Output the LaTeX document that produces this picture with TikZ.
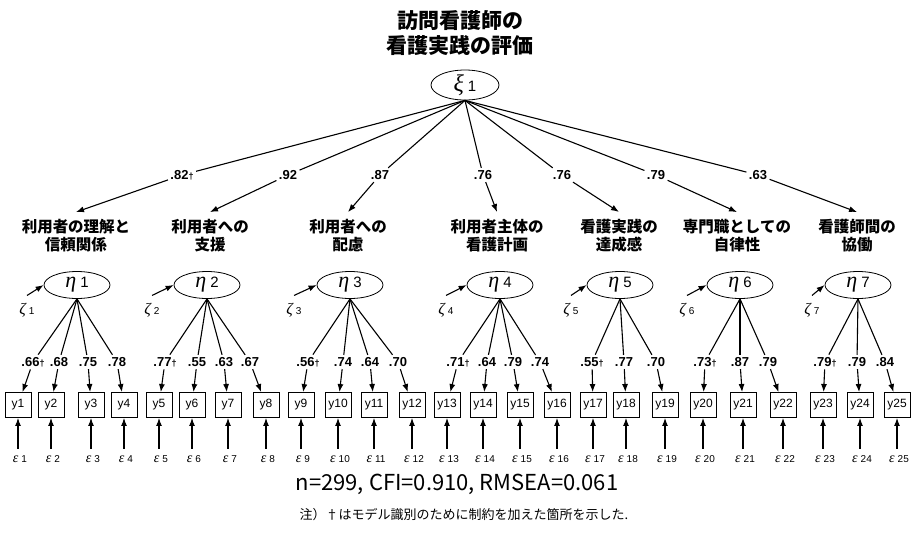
\documentclass[tikz,border=0pt]{standalone}
\usepackage{fontspec}
\setmainfont{Liberation Sans}
\newfontfamily\jpfont{Noto Sans CJK JP}
\newfontfamily\grkfont{Liberation Serif}
\usetikzlibrary{arrows.meta,positioning,shapes.geometric}
\newcommand{\dagmark}{{\fontsize{9}{9}\selectfont †}}
\tikzset{
  >={Latex[length=8pt,width=6pt]},
  latent/.style={ellipse, draw, line width=0.8pt, minimum width=66pt,
    minimum height=27pt, inner sep=0pt},
  obs/.style={draw, line width=0.9pt, minimum width=26pt, minimum height=25pt,
    inner sep=0pt, font=\fontsize{12}{14}\selectfont},
  coef/.style={font=\fontsize{13}{15}\selectfont\bfseries, inner sep=2pt},
  grp/.style={font=\jpfont\bfseries\fontsize{15.5}{18}\selectfont, align=center,
    inner xsep=2pt, inner ysep=7pt},
  headline/.style={font=\jpfont\bfseries\fontsize{21}{25}\selectfont, align=center},
  errlab/.style={font=\fontsize{10}{12}\selectfont, inner sep=1pt},
}

\begin{document}
\begin{tikzpicture}[x=1pt, y=-1pt, line width=1.1pt]
  \useasboundingbox[fill=white] (0,0) rectangle (914,547);

  % --- second-order factor ---
  \node[headline] (head) at (460,33) {訪問看護師の\\看護実践の評価};
  \node[latent, minimum width=68pt, minimum height=30pt] (xi) at (465,85)
    {{\grkfont\itshape\fontsize{24}{24}\selectfont ξ}\hspace{4pt}{\fontsize{15}{15}\selectfont 1}};

  % --- first-order factors ---
  \foreach \i/\ex/\gx/\cx/\zx/\cv/\lab in {
    1/77/76/182/27/{.82\dagmark}/{利用者の理解と\\信頼関係},
    2/207/210/288/152/.92/{利用者への\\支援},
    3/350/348/380/294/.87/{利用者への\\配慮},
    4/500/497/483/446/.76/{利用者主体の\\看護計画},
    5/620/619/562/571/.76/{看護実践の\\達成感},
    6/740/737/656/687/.79/{専門職としての\\自律性},
    7/858/857/758/812/.63/{看護師間の\\協働}} {
    \node[grp] (g\i) at (\gx,236) {\lab};
    \node[latent] (eta\i) at (\ex,285)
      {{\grkfont\itshape\fontsize{22}{22}\selectfont η}\hspace{4pt}{\fontsize{15}{15}\selectfont\i}};
    \node[coef] (c\i) at (\cx,175) {\cv};
    \node[errlab] (z\i) at (\zx,310)
      {{\grkfont\itshape\fontsize{16}{16}\selectfont ζ}\hspace{3pt}{\fontsize{10}{10}\selectfont\i}};
    \draw (xi.south) -- (c\i);
    \draw[->] (c\i) -- (g\i.north);
    \draw[->] ([yshift=6pt]z\i.north) -- (eta\i.west);
  }

  % --- indicators ---
  \foreach \j/\bx/\lx/\lv/\f in {
    1/18/33/{.66\dagmark}/1, 2/51/59/.68/1, 3/91/88/.75/1, 4/124/117/.78/1,
    5/159/165/{.77\dagmark}/2, 6/192/197/.55/2, 7/228/224/.63/2, 8/266/250/.67/2,
    9/301/308/{.56\dagmark}/3, 10/338/343/.74/3, 11/374/370/.64/3, 12/412/398/.70/3,
    13/447/458/{.71\dagmark}/4, 14/483/487/.64/4, 15/520/513/.79/4, 16/557/540/.74/4,
    17/593/592/{.55\dagmark}/5, 18/626/624/.77/5, 19/665/656/.70/5,
    20/703/705/{.73\dagmark}/6, 21/743/740/.87/6, 22/783/768/.79/6,
    23/823/825/{.79\dagmark}/7, 24/860/857/.79/7, 25/897/885/.84/7} {
    \node[obs] (y\j) at (\bx,405) {y\j};
    \node[coef] (l\j) at (\lx,362) {\lv};
    \node[errlab, inner ysep=6pt] (e\j) at (\bx+2,459)
      {{\grkfont\itshape\fontsize{14}{14}\selectfont ε}\hspace{3pt}{\fontsize{10}{10}\selectfont\j}};
    \draw (eta\f.south) -- (l\j);
    \draw[->] (l\j) -- (y\j);
    \draw[->] (y\j |- e\j.north) -- (y\j);
  }

  % --- fit and note ---
  \node[font=\jpfont\fontsize{22}{24}\selectfont] (fitline) at (457,484)
    {n=299, CFI=0.910, RMSEA=0.061};
  \node[font=\jpfont\fontsize{13}{15}\selectfont] (note) at (464,515)
    {注）†はモデル識別のために制約を加えた箇所を示した.};
\end{tikzpicture}
\end{document}
